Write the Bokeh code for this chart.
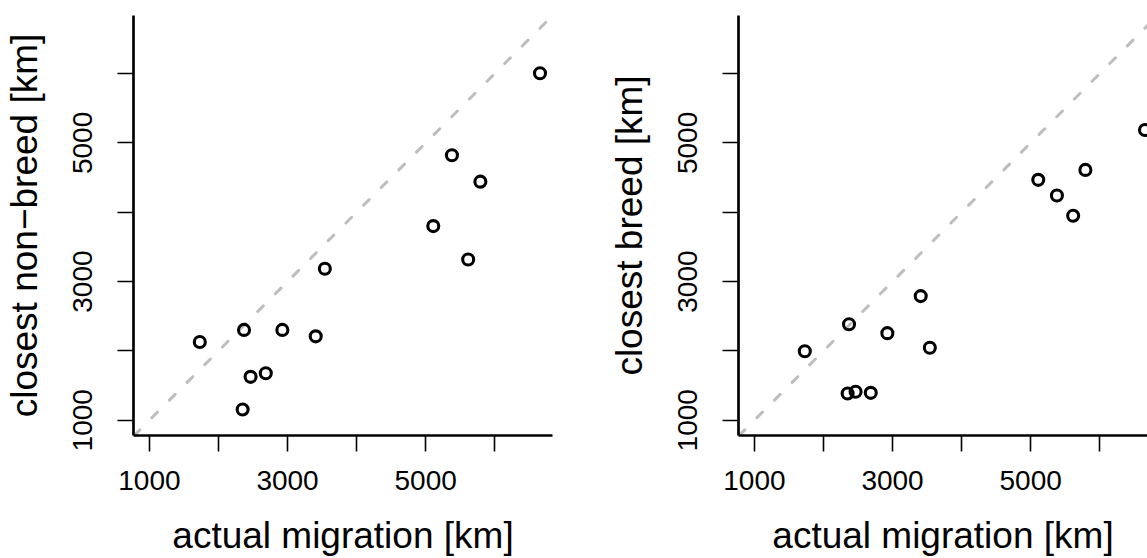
from bokeh.plotting import figure
from bokeh.models import FixedTicker, Range1d, Slope
from bokeh.layouts import row
from bokeh.embed import file_html
from bokeh.resources import INLINE

# ---- data ----
migration_km = [1730, 2350, 2370, 2465, 2685, 2925, 3408, 3540, 5110, 5380, 5615, 5792, 6655]
closest_nonbreed_km = [2128, 1154, 2303, 1626, 1677, 2303, 2210, 3185, 3800, 4821, 3318, 4441, 6005]
closest_breed_km = [1995, 1385, 2385, 1410, 1395, 2256, 2790, 2046, 4467, 4241, 3949, 4610, 5185]

tick_values = [1000, 2000, 3000, 4000, 5000, 6000]
tick_labels = ["1000", "", "3000", "", "5000", ""]

x_label = "actual migration [km]"
y_labels = ["closest non\u2212breed [km]", "closest breed [km]"]

# ---- layout / style ----
FONT = "Liberation Sans"
X0, X1 = 770, 6836
Y0, Y1 = 780, 6837
FIG_H = 558
LEFT_W = 603
RIGHT_W = 544
BORDER_L_LEFTFIG = 133
BORDER_L_RIGHTFIG = 135
BORDER_R_LEFTFIG = 51
BORDER_T = 15
BORDER_B = 122


def make_panel(yvals, ylabel, width, border_l, border_r, x_end):
    p = figure(width=width, height=FIG_H, output_backend="svg", toolbar_location=None,
               x_range=Range1d(X0, x_end), y_range=Range1d(Y0, Y1),
               min_border_left=border_l, min_border_right=border_r,
               min_border_top=BORDER_T, min_border_bottom=BORDER_B)
    p.grid.visible = False
    p.outline_line_color = None
    p.background_fill_color = "white"
    p.border_fill_color = "white"

    overrides = {v: t for v, t in zip(tick_values, tick_labels)}
    for ax in (p.xaxis[0], p.yaxis[0]):
        ax.ticker = FixedTicker(ticks=tick_values)
        ax.major_label_overrides = overrides
        ax.minor_tick_line_color = None
        ax.axis_line_width = 2.7
        ax.axis_line_color = "black"
        ax.major_tick_line_width = 1.6
        ax.major_tick_line_color = "black"
        ax.major_tick_in = 0
        ax.major_tick_out = 16
        ax.major_label_text_font = FONT
        ax.major_label_text_font_size = "28px"
        ax.major_label_text_color = "black"
        ax.axis_label_text_font = FONT
        ax.axis_label_text_font_size = "37px"
        ax.axis_label_text_font_style = "normal"
        ax.axis_label_text_color = "black"

    p.xaxis[0].axis_label = x_label
    p.xaxis[0].major_label_standoff = 19
    p.xaxis[0].axis_label_standoff = 22
    p.yaxis[0].axis_label = ylabel
    p.yaxis[0].major_label_orientation = "vertical"
    p.yaxis[0].major_label_standoff = 25
    p.yaxis[0].axis_label_standoff = 26

    p.add_layout(Slope(gradient=1, y_intercept=0, line_color="#BEBEBE", line_width=3,
                       line_dash="8 17", line_cap="round", level="underlay"))
    p.scatter(migration_km, yvals, marker="circle", size=11, fill_color=None,
              line_color="black", line_width=3.1)
    return p


left_frame_w = LEFT_W - BORDER_L_LEFTFIG - BORDER_R_LEFTFIG
right_frame_w = RIGHT_W - BORDER_L_RIGHTFIG
x_end_right = X0 + (X1 - X0) * right_frame_w / left_frame_w

p1 = make_panel(closest_nonbreed_km, y_labels[0], LEFT_W, BORDER_L_LEFTFIG, BORDER_R_LEFTFIG, X1)
p2 = make_panel(closest_breed_km, y_labels[1], RIGHT_W, BORDER_L_RIGHTFIG, 0, x_end_right)

layout = row(p1, p2)
open("out.html", "w").write(file_html(layout, INLINE))
